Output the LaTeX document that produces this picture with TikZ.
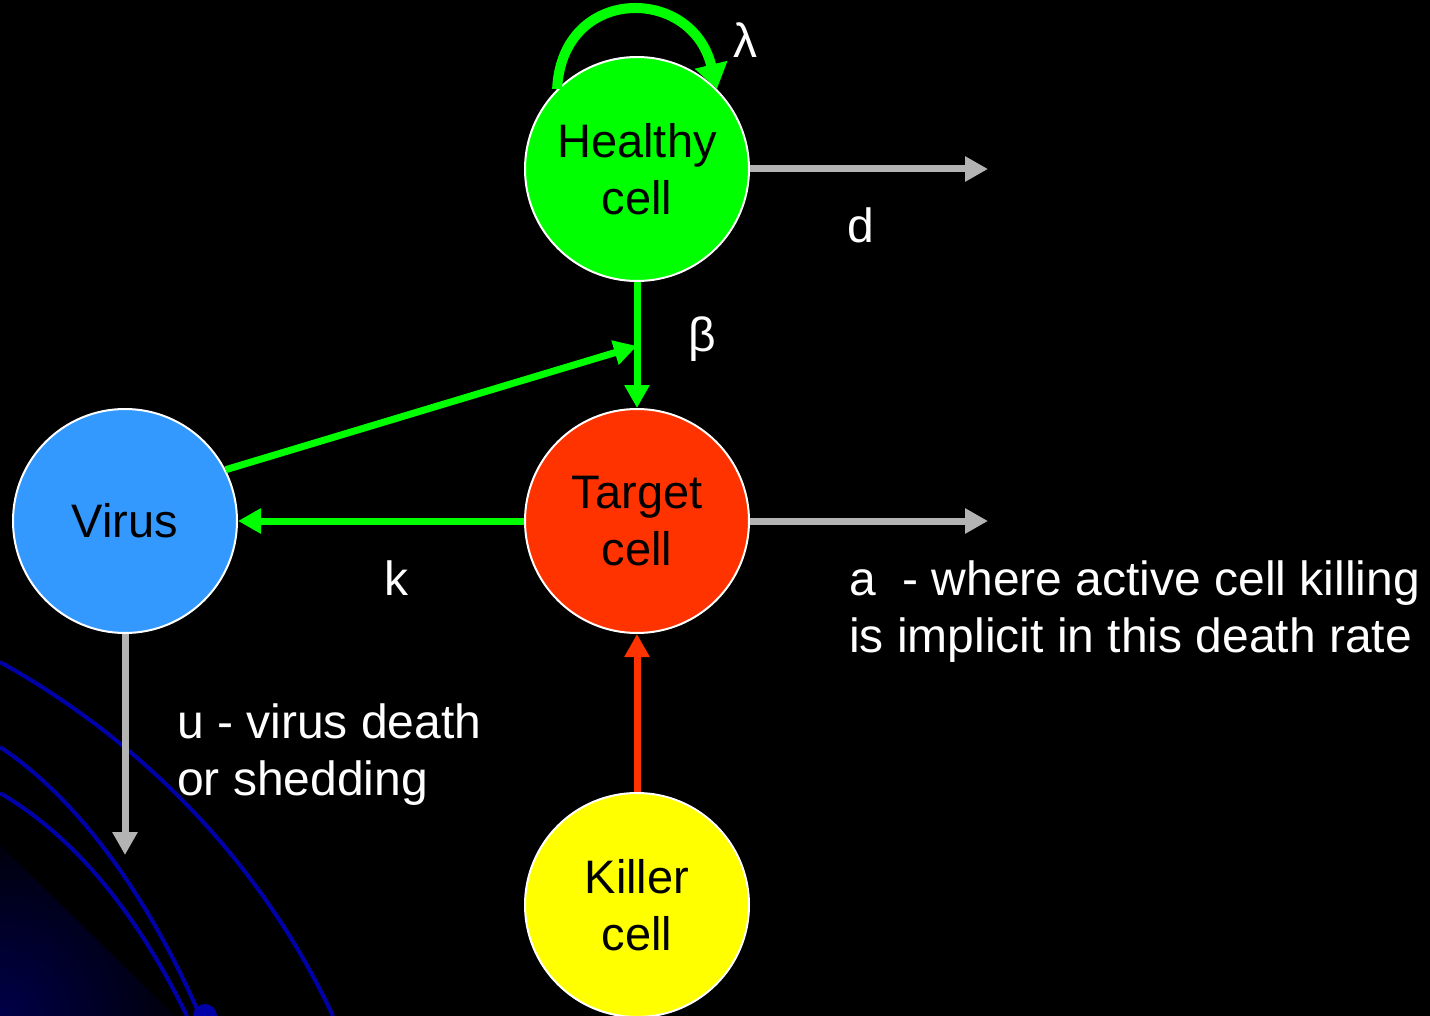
\documentclass[tikz,border=0pt]{standalone}
\usepackage{fontspec}
\setmainfont{Liberation Sans}
\usetikzlibrary{arrows.meta}
\definecolor{hgreen}{HTML}{00FF00}
\definecolor{tred}{HTML}{FF3300}
\definecolor{vblue}{HTML}{3399FF}
\definecolor{kyellow}{HTML}{FFFF00}
\definecolor{agray}{HTML}{B3B3B3}
\definecolor{navyline}{HTML}{0000A8}
\definecolor{navydeep}{HTML}{000048}
\begin{document}
\begin{tikzpicture}[x=1pt,y=-1pt,
  cell/.style={circle, draw=white, line width=2pt, minimum size=224pt, inner sep=0pt,
    align=center, text=black, font=\fontsize{47}{57}\selectfont},
  lbl/.style={text=white, inner sep=0pt, font=\fontsize{48}{57}\selectfont},
  flow/.style={line width=7pt, -{Triangle[length=23pt,width=24pt]}},
  deco/.style={navyline, line width=4pt}]
\fill[black] (0,0) rectangle (1430,1016);
\useasboundingbox (0,0) rectangle (1430,1016);
% decorative corner
\begin{scope}
  \clip (0,845) -- (175,1016) -- (0,1016) -- cycle;
  \shade[inner color=navydeep, outer color=black] (0,1016) circle (210);
\end{scope}
\draw[deco] (0,662) .. controls (140,740) and (260,860) .. (333,1016);
\draw[deco] (0,747) .. controls (80,800) and (150,900) .. (200,1016);
\draw[deco] (0,793) .. controls (80,840) and (140,920) .. (187,1016);
\fill[navyline] (205,1016) circle (12);
% cells
\node[cell, fill=hgreen] (H) at (637,169) {Healthy\\cell};
\node[cell, fill=tred] (T) at (637,521) {Target\\cell};
\node[cell, fill=vblue] (V) at (125,521) {Virus};
\node[cell, fill=kyellow] (K) at (637,905) {Killer\\cell};
% free ends
\coordinate (dH) at (988,169);
\coordinate (dT) at (988,521);
\coordinate (dV) at (125,855);
\coordinate (mid) at (637,346);
% connectors
\draw[hgreen, line width=10pt, -{Triangle[length=25pt,width=32pt]}]
  (H.135) .. controls +(5,-104) and +(-25,-104) .. (H.45);
\draw[flow, hgreen] (H.south) -- (T.north);
\draw[flow, hgreen] (V.27) -- (mid);
\draw[flow, hgreen] (T.west) -- (V.east);
\draw[flow, agray] (H.east) -- (dH);
\draw[flow, agray] (T.east) -- (dT);
\draw[flow, agray] (V.south) -- (dV);
\draw[flow, tred] (K.north) -- (T.south);
% labels
\node[lbl, anchor=base] (lam) at (745,58) {λ};
\node[lbl, anchor=base] (dl) at (861,243) {d};
\node[lbl, anchor=base] (bl) at (702,352) {β};
\node[lbl, anchor=base] (kl) at (396,595) {k};
\node[lbl, anchor=base west, align=left] (al) at (849,652) {a~ - where active cell killing\\is implicit in this death rate};
\node[lbl, anchor=base west, align=left] (ul) at (177,795) {u - virus death\\or shedding};
\end{tikzpicture}
\end{document}
